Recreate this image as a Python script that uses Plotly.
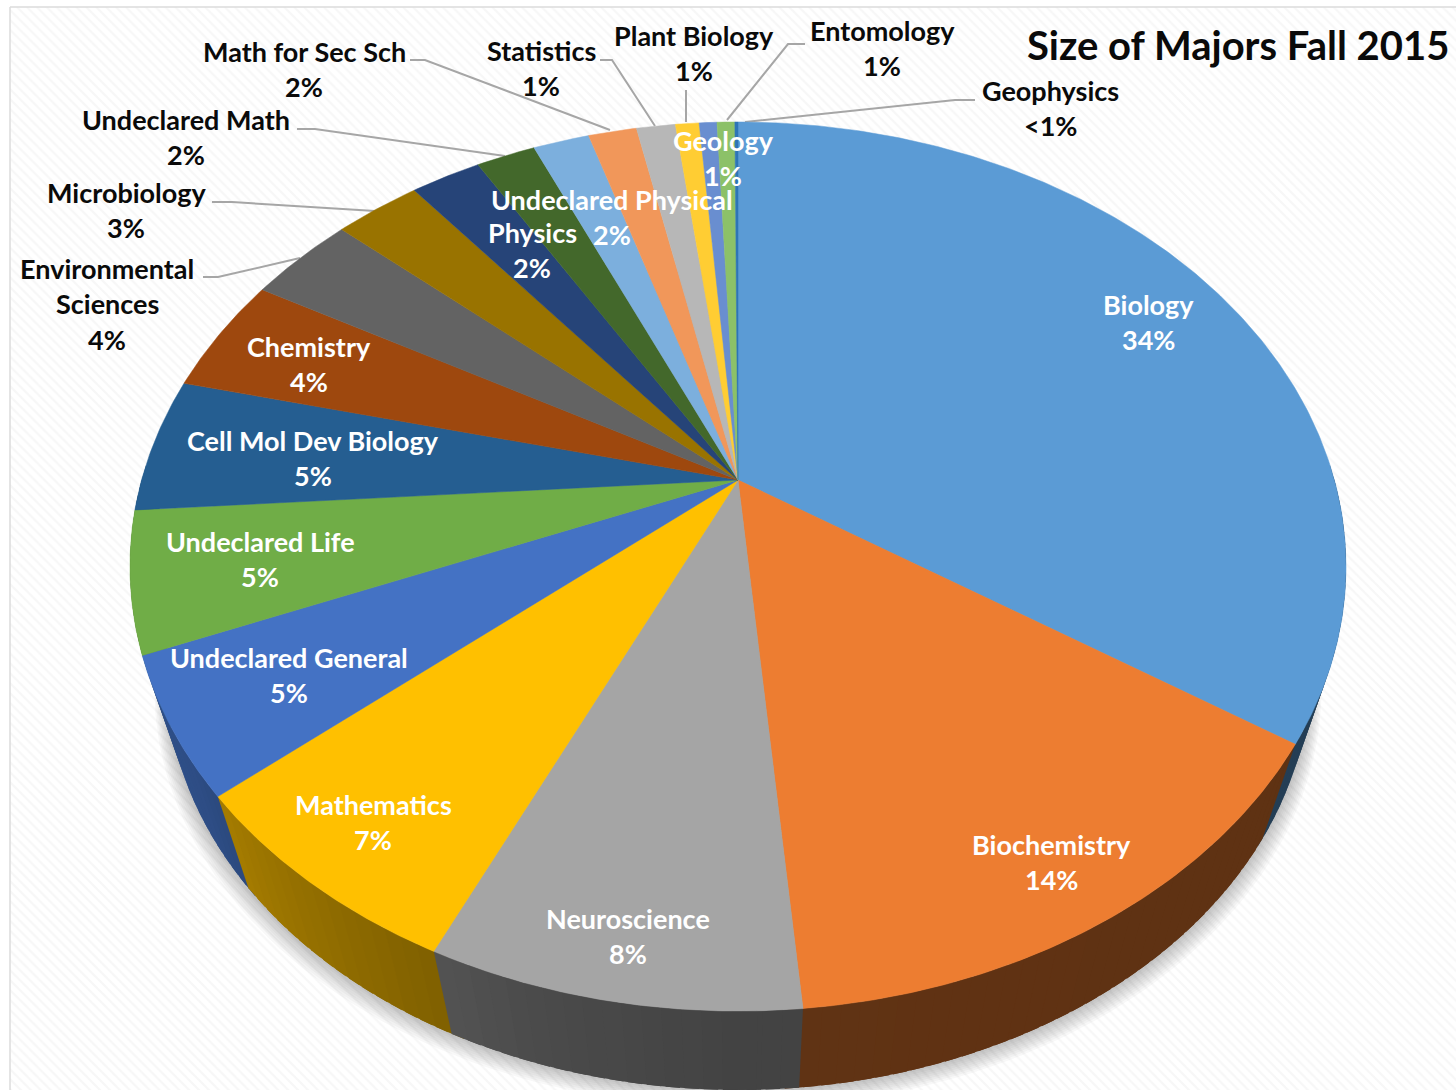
import numpy as np
import plotly.graph_objects as go

# ---- data (percent shares, clockwise from 12 o'clock)
majors = ["Biology", "Biochemistry", "Neuroscience", "Mathematics", "Undeclared General",
          "Undeclared Life", "Cell Mol Dev Biology", "Chemistry", "Environmental Sciences",
          "Microbiology", "Physics", "Undeclared Math", "Undeclared Physical", "Math for Sec Sch",
          "Statistics", "Plant Biology", "Geology", "Entomology", "Geophysics"]
shares = [34.3, 14.3, 8.3, 6.9, 5.0, 5.1, 4.9, 4.3, 3.4, 2.75, 2.25, 1.9, 1.8, 1.55,
          1.25, 0.76, 0.57, 0.57, 0.1]
shown = ["34%", "14%", "8%", "7%", "5%", "5%", "5%", "4%", "4%", "3%", "2%", "2%", "2%",
         "2%", "1%", "1%", "1%", "1%", "<1%"]
colors = ["#5B9BD5", "#ED7D31", "#A5A5A5", "#FFC000", "#4472C4", "#70AD47", "#255E91",
          "#9E480E", "#636363", "#997300", "#264478", "#43682B", "#7CAFDD", "#F1975A",
          "#B7B7B7", "#FFCD33", "#698ED0", "#8CC168", "#2E75B6"]
title_text = "Size of Majors Fall 2015"

# ---- layout of the labels: text lines, colour, centre x, first line y
label_lines = {
    "Biology": (["Biology"], "white", 1148, 304),
    "Biochemistry": (["Biochemistry"], "white", 1051, 844),
    "Neuroscience": (["Neuroscience"], "white", 628, 918),
    "Mathematics": (["Mathematics"], "white", 373, 804),
    "Undeclared General": (["Undeclared General"], "white", 289, 657),
    "Undeclared Life": (["Undeclared Life"], "white", 260, 541),
    "Cell Mol Dev Biology": (["Cell Mol Dev Biology"], "white", 313, 440),
    "Chemistry": (["Chemistry"], "white", 309, 346),
    "Environmental Sciences": (["Environmental", "Sciences"], "#0a0a0a", 107, 268),
    "Microbiology": (["Microbiology"], "#0a0a0a", 126, 192),
    "Physics": (["Physics"], "white", 532, 232),
    "Undeclared Math": (["Undeclared Math"], "#0a0a0a", 186, 119),
    "Undeclared Physical": (["Undeclared Physical"], "white", 612, 199),
    "Math for Sec Sch": (["Math for Sec Sch"], "#0a0a0a", 304, 51),
    "Statistics": (["Statistics"], "#0a0a0a", 541, 50),
    "Plant Biology": (["Plant Biology"], "#0a0a0a", 694, 35),
    "Geology": (["Geology"], "white", 723, 140),
    "Entomology": (["Entomology"], "#0a0a0a", 882, 30),
    "Geophysics": (["Geophysics"], "#0a0a0a", 1050, 90),
}
leaders = [
    ([975, 955, 745], [100, 100, 122]),
    ([805, 788, 727], [44, 44, 120]),
    ([686, 686], [90, 122]),
    ([600, 612, 655], [60, 60, 126]),
    ([410, 425, 610], [60, 60, 130]),
    ([297, 315, 505], [129, 129, 156]),
    ([212, 232, 375], [202, 202, 211]),
    ([203, 218, 300], [277, 277, 258]),
]

# ---- perspective projection of the tilted disc into page pixels
CX, CY, A, B, K = 738.0, 480.0, 596.4, 427.7, -0.1946
VX, VY, DEPTH = 738.0, 2350.0, 0.059
FONT = "Lato"
LINE_STEP = 35.5


def top(theta):
    sx, sy = np.sin(theta), -np.cos(theta)
    d = 1 + K * sy
    return CX + A * sx / d, CY + B * sy / d


def bottom(theta):
    x, y = top(theta)
    return x + DEPTH * (VX - x), y + DEPTH * (VY - y)


def shade(hex_color, f):
    r, g, b = (int(hex_color[i:i + 2], 16) for i in (1, 3, 5))
    return f"rgb({int(r * f)},{int(g * f)},{int(b * f)})"


def wall_factor(deg):
    return float(np.interp(deg, [120, 180, 195, 215, 235, 260], [0.40, 0.41, 0.45, 0.56, 0.68, 0.72]))


total = sum(shares)
edges = np.concatenate([[0], np.cumsum(shares)]) / total * 2 * np.pi
fig = go.Figure()

# hatched sheet
fig.add_trace(go.Scatter(x=[10, 1480, 1480, 10, 10], y=[7, 7, 1110, 1110, 7], mode="lines",
                         fill="toself", fillcolor="white",
                         fillpattern=dict(shape="\\", size=7, solidity=0.32, fgcolor="#efefef", bgcolor="white"),
                         line=dict(color="#dcdcdc", width=1.5), hoverinfo="skip"))

# soft shadow under the disc
ring = np.linspace(0, 2 * np.pi, 241)
bx, by = bottom(ring)
for i in range(1, 10):
    fig.add_trace(go.Scatter(x=VX + (bx - VX) * (1 + 0.0022 * i), y=by + 2.0 * i, mode="lines", fill="toself",
                             fillcolor="rgba(70,70,70,0.035)", line=dict(width=0), hoverinfo="skip"))

# leader lines
for lx, ly in leaders:
    fig.add_trace(go.Scatter(x=lx, y=ly, mode="lines", line=dict(color="#a6a6a6", width=2), hoverinfo="skip"))

# side wall, split in small strips so the shading can vary; painted far to near
strips = []
for t0, t1, col in zip(edges[:-1], edges[1:], colors):
    lo, hi = max(t0, np.radians(88)), min(t1, np.radians(272))
    if hi <= lo:
        continue
    n = max(1, int(np.degrees(hi - lo) / 1.5))
    cuts = np.linspace(lo, hi, n + 1)
    for a0, a1 in zip(cuts[:-1], cuts[1:]):
        strips.append((a0, a1, col))
strips.sort(key=lambda s: -abs((s[0] + s[1]) / 2 - np.pi))
for a0, a1, col in strips:
    mid = (a0 + a1) / 2
    c = shade(col, wall_factor(np.degrees(mid)))
    # each strip runs a little under the next one painted, which hides the seams
    lap = np.radians(1.2)
    arc = np.linspace(a0, a1 + lap, 5) if mid < np.pi else np.linspace(a0 - lap, a1, 5)
    xt, yt = top(arc)
    xb, yb = bottom(arc[::-1])
    fig.add_trace(go.Scatter(x=np.r_[xt, xb, xt[0]], y=np.r_[yt, yb, yt[0]], mode="lines", fill="toself",
                             fillcolor=c, line=dict(width=0), hoverinfo="skip"))

# top face
for name, t0, t1, col in zip(majors, edges[:-1], edges[1:], colors):
    arc = np.linspace(t0, t1, max(3, int(np.degrees(t1 - t0) * 2)))
    xt, yt = top(arc)
    fig.add_trace(go.Scatter(x=np.r_[CX, xt, CX], y=np.r_[CY, yt, CY], mode="lines", fill="toself",
                             fillcolor=col, line=dict(color=col, width=0.5), name=name, hoverinfo="skip"))

# text
ann = []
for name, pct in zip(majors, shown):
    lines, color, lx, ly = label_lines[name]
    for j, t in enumerate(lines + [pct]):
        ann.append(dict(x=lx, y=ly + j * LINE_STEP, text=f"<b>{t}</b>", showarrow=False, xanchor="center",
                        yanchor="middle", font=dict(family=FONT, size=27, color=color)))
ann.append(dict(x=1025, y=45, text=f"<b>{title_text}</b>", showarrow=False, xanchor="left", yanchor="middle",
                font=dict(family=FONT, size=40, color="#0a0a0a")))

fig.update_layout(width=1456, height=1090, margin=dict(l=0, r=0, t=0, b=0), showlegend=False,
                  paper_bgcolor="white", plot_bgcolor="white", annotations=ann,
                  xaxis=dict(range=[0, 1456], visible=False, fixedrange=True),
                  yaxis=dict(range=[1090, 0], visible=False, fixedrange=True))

fig.write_html("out.html", config=dict(displayModeBar=False),
               post_script="document.body.style.margin='0';document.body.style.overflow='hidden';")
